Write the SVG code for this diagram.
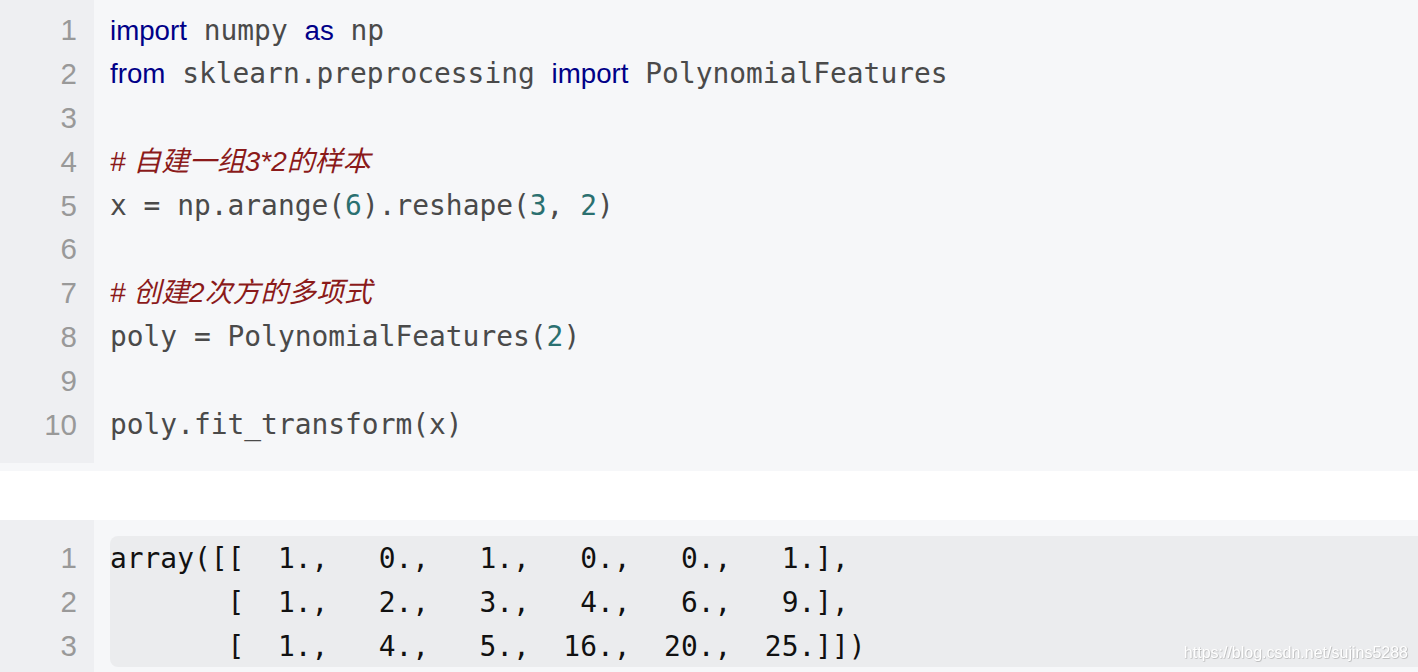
<svg xmlns="http://www.w3.org/2000/svg" width="1418" height="672" viewBox="0 0 1418 672">
<style>
.bg{fill:#f6f7f9}
.gut{fill:#eeeff2}
.ln{font-family:"Liberation Sans",Arial,sans-serif;font-size:29.5px;fill:#999;text-anchor:end}
.m{font-family:"DejaVu Sans Mono","Liberation Mono",monospace;font-size:27.9px;fill:#4a4a4a}
.kw{font-family:"Liberation Sans",Arial,sans-serif;font-size:27.7px;fill:#000088}
.num{fill:#2b7070}
.cm{font-family:"Liberation Sans","Noto Sans CJK SC",sans-serif;font-size:27.9px;font-style:italic;fill:#8b1a1a}
.out{font-family:"DejaVu Sans Mono","Liberation Mono",monospace;font-size:27.9px;fill:#111}
.wm{font-family:"Liberation Sans",Arial,sans-serif;font-size:16px;fill:#ffffff;text-anchor:end}
</style>
<defs>
<filter id="sh" x="-5%" y="-30%" width="110%" height="160%">
<feDropShadow dx="0.6" dy="0.6" stdDeviation="0.6" flood-color="#888" flood-opacity="0.7"/>
</filter>
</defs>
<rect x="0" y="0" width="1418" height="672" fill="#ffffff"/>
<g id="code-block">
<rect class="bg" x="0" y="0" width="1418" height="471"/>
<rect class="gut" x="0" y="0" width="94" height="463"/>
<g id="code-line-numbers">
<text class="ln" x="77" y="40">1</text>
<text class="ln" x="77" y="84">2</text>
<text class="ln" x="77" y="128">3</text>
<text class="ln" x="77" y="172">4</text>
<text class="ln" x="77" y="216">5</text>
<text class="ln" x="77" y="259">6</text>
<text class="ln" x="77" y="303">7</text>
<text class="ln" x="77" y="347">8</text>
<text class="ln" x="77" y="391">9</text>
<text class="ln" x="77" y="435">10</text>
</g>
<g id="code-lines">
<text x="110" y="39.5" xml:space="preserve"><tspan class="kw">import</tspan><tspan class="m"> numpy </tspan><tspan class="kw">as</tspan><tspan class="m"> np</tspan></text>
<text x="110" y="83.3" xml:space="preserve"><tspan class="kw">from</tspan><tspan class="m"> sklearn.preprocessing </tspan><tspan class="kw">import</tspan><tspan class="m"> PolynomialFeatures</tspan></text>
<text class="cm" x="110" y="170.9" xml:space="preserve"># 自建一组3*2的样本</text>
<text class="m" x="110" y="214.7" xml:space="preserve">x = np.arange(<tspan class="num">6</tspan>).reshape(<tspan class="num">3</tspan>, <tspan class="num">2</tspan>)</text>
<text class="cm" x="110" y="302.3" xml:space="preserve"># 创建2次方的多项式</text>
<text class="m" x="110" y="346.1" xml:space="preserve">poly = PolynomialFeatures(<tspan class="num">2</tspan>)</text>
<text class="m" x="110" y="433.7" xml:space="preserve">poly.fit_transform(x)</text>
</g>
</g>
<g id="output-block">
<rect class="bg" x="0" y="520" width="1418" height="152"/>
<rect class="gut" x="0" y="520" width="94" height="152"/>
<rect x="110" y="536" width="1330" height="131" rx="8" fill="#ebecee"/>
<g id="output-line-numbers">
<text class="ln" x="77" y="568">1</text>
<text class="ln" x="77" y="612">2</text>
<text class="ln" x="77" y="656">3</text>
</g>
<g id="output-lines">
<text class="out" x="110" y="568" xml:space="preserve">array([[  1.,   0.,   1.,   0.,   0.,   1.],</text>
<text class="out" x="110" y="612" xml:space="preserve">       [  1.,   2.,   3.,   4.,   6.,   9.],</text>
<text class="out" x="110" y="656" xml:space="preserve">       [  1.,   4.,   5.,  16.,  20.,  25.]])</text>
</g>
<text id="watermark" class="wm" x="1408" y="658" filter="url(#sh)">https://blog.csdn.net/sujins5288</text>
</g>
</svg>
